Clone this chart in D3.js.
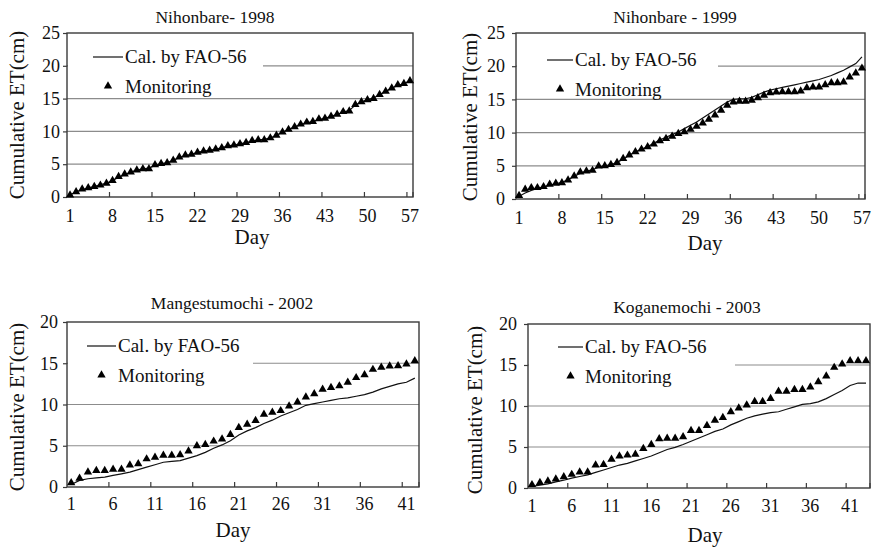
<!DOCTYPE html>
<html>
<head>
<meta charset="utf-8">
<script src="https://cdn.jsdelivr.net/npm/d3@7"></script>
<style>
  body { margin: 0; background: #fff; }
  svg text { font-family: "Liberation Serif", "Times New Roman", Times, "DejaVu Serif", serif; }
</style>
</head>
<body>
<div class="chart"></div>
<script>
// Cumulative ET (cm) per day
const nihon98Mon = [0.3,0.8,1.2,1.4,1.6,1.8,2.1,2.5,3.1,3.5,3.8,4.1,4.3,4.3,4.9,5.1,5.2,5.6,6.1,6.4,6.5,6.8,7.0,7.1,7.3,7.5,7.8,7.9,8.1,8.3,8.6,8.7,8.7,9.0,9.4,9.9,10.3,10.7,11.1,11.4,11.5,11.9,12.0,12.3,12.6,13.0,13.1,14.1,14.5,14.8,15.0,15.6,16.1,16.6,17.1,17.3,17.7];
const nihon98Cal = [0.3,0.8,1.1,1.4,1.6,1.9,2.1,2.5,3.0,3.4,3.8,4.1,4.3,4.4,4.8,5.1,5.2,5.6,6.0,6.3,6.5,6.8,7.0,7.1,7.3,7.5,7.8,7.9,8.1,8.3,8.5,8.7,8.8,9.0,9.4,9.9,10.3,10.7,11.0,11.3,11.5,11.8,12.0,12.3,12.6,12.9,13.2,14.0,14.5,14.8,15.1,15.6,16.1,16.6,17.0,17.3,17.7];
const nihon99Mon = [0.5,1.45,1.7,1.7,1.85,2.2,2.35,2.45,2.85,3.45,4.05,4.2,4.3,4.95,5.0,5.2,5.5,6.1,6.6,7.1,7.5,7.85,8.25,8.75,9.1,9.45,9.85,10.1,10.5,10.95,11.45,12.0,12.65,13.35,14.1,14.6,14.7,14.7,14.85,15.25,15.6,16.0,16.1,16.15,16.15,16.15,16.25,16.75,16.85,16.85,17.2,17.5,17.5,17.6,18.35,18.95,19.7];
const nihon99Cal = [0.4,0.9,1.3,1.6,1.8,2.1,2.3,2.5,2.9,3.4,3.9,4.2,4.4,4.8,5.0,5.2,5.5,6.0,6.6,7.1,7.5,7.9,8.4,8.9,9.3,9.7,10.1,10.6,11.1,11.6,12.2,12.8,13.4,14.0,14.6,15.0,15.1,15.1,15.3,15.7,16.1,16.4,16.6,16.8,17.0,17.2,17.4,17.6,17.8,18.0,18.3,18.6,19.0,19.4,19.9,20.4,21.4];
const mange02Mon = [0.5,1.05,1.8,2.0,2.0,2.15,2.15,2.65,2.8,3.4,3.6,3.85,3.85,3.9,4.35,5.0,5.15,5.55,5.8,6.35,7.2,7.6,8.05,8.8,9.05,9.25,9.8,10.3,10.9,11.3,11.85,12.05,12.25,12.7,13.25,13.6,14.25,14.5,14.65,14.7,14.9,15.3];
const mange02Cal = [0.3,0.8,1.0,1.1,1.2,1.4,1.6,1.8,2.1,2.4,2.7,3.0,3.1,3.2,3.5,3.8,4.2,4.7,5.1,5.6,6.3,6.8,7.2,7.7,8.1,8.6,9.0,9.4,9.9,10.1,10.3,10.5,10.7,10.8,11.0,11.2,11.5,11.9,12.2,12.5,12.7,13.2];
const kogane03Mon = [0.4,0.65,0.85,1.1,1.35,1.65,1.95,1.95,2.8,2.85,3.5,3.9,4.0,4.1,4.8,5.3,6.0,6.05,6.05,6.25,7.0,7.0,7.6,8.25,8.6,9.3,9.75,10.1,10.55,10.55,10.9,11.8,11.8,12.0,12.0,12.3,12.95,13.65,14.7,15.1,15.5,15.5,15.5];
const kogane03Cal = [0.2,0.35,0.5,0.75,0.95,1.2,1.4,1.6,1.9,2.2,2.5,2.8,3.0,3.3,3.6,3.9,4.3,4.7,4.95,5.3,5.7,6.1,6.5,6.9,7.2,7.7,8.1,8.5,8.8,9.0,9.2,9.3,9.6,9.9,10.2,10.3,10.5,10.9,11.4,11.9,12.5,12.8,12.8];

const yTicks25 = [0, 5, 10, 15, 20, 25];
const yTicks20 = [0, 5, 10, 15, 20];
const legendLabels = ["Cal. by FAO-56", "Monitoring"];

const svg = d3.select(".chart").append("svg")
  .attr("width", 872)
  .attr("height", 547);

function drawPanel(p) {
  const days = d3.range(1, p.mon.length + 1);
  const x = d3.scaleBand().domain(days).range([p.left, p.right]).padding(0);
  const y = d3.scaleLinear().domain([0, p.yTicks[p.yTicks.length - 1]]).range([p.bottom, p.top]);
  const cx = d => x(d) + x.bandwidth() / 2;
  const labelDays = days.filter(d => (d - 1) % p.every === 0);

  const g = svg.append("g");

  // gridlines
  g.selectAll("line.grid")
    .data(p.yTicks.slice(1, -1))
    .enter().append("line")
    .attr("class", "grid")
    .attr("x1", p.left).attr("x2", p.right)
    .attr("y1", d => y(d)).attr("y2", d => y(d))
    .attr("stroke", "#8c8c8c")
    .attr("stroke-width", 1.2);

  // legend background hides part of a gridline
  g.append("rect")
    .attr("x", p.left + 1)
    .attr("y", p.top + 6)
    .attr("width", p.boxRight - p.left - 1)
    .attr("height", 58)
    .attr("fill", "#fff");

  // plot border
  g.append("rect")
    .attr("x", p.left).attr("y", p.top)
    .attr("width", p.right - p.left).attr("height", p.bottom - p.top)
    .attr("fill", "none")
    .attr("stroke", "#3a3a3a")
    .attr("stroke-width", 1.4);

  // y axis
  const ya = g.append("g")
    .attr("transform", `translate(${p.left},0)`)
    .call(d3.axisLeft(y).tickValues(p.yTicks).tickSize(4).tickPadding(p.yPad));
  ya.attr("font-family", null);
  ya.select(".domain").remove();
  ya.selectAll("line").attr("stroke", "#3a3a3a").attr("stroke-width", 1.2);
  ya.selectAll("text").attr("font-size", 18).attr("fill", "#111");

  // x axis labels
  const xa = g.append("g")
    .attr("transform", `translate(0,${p.bottom})`)
    .call(d3.axisBottom(x).tickValues(labelDays).tickSize(0).tickPadding(0));
  xa.attr("font-family", null);
  xa.select(".domain").remove();
  xa.selectAll("text").attr("font-size", 18).attr("fill", "#111")
    .attr("dy", null)
    .attr("y", p.xLabY - p.bottom);

  // x tick marks point up, at category boundaries
  g.selectAll("line.xtick")
    .data(labelDays.concat([days.length + 1]).filter(d => d > 1))
    .enter().append("line")
    .attr("class", "xtick")
    .attr("x1", d => d > days.length ? p.right : x(d))
    .attr("x2", d => d > days.length ? p.right : x(d))
    .attr("y1", p.bottom).attr("y2", p.bottom - 5)
    .attr("stroke", "#3a3a3a").attr("stroke-width", 1.2);

  // FAO-56 line
  g.append("path")
    .datum(p.cal)
    .attr("fill", "none")
    .attr("stroke", "#111")
    .attr("stroke-width", 1.2)
    .attr("d", d3.line().x((v, i) => cx(i + 1)).y(v => y(v)));

  // monitoring triangles
  const tri = d3.symbol().type(d3.symbolTriangle).size(30);
  g.selectAll("path.mon")
    .data(p.mon)
    .enter().append("path")
    .attr("class", "mon")
    .attr("d", tri)
    .attr("transform", (v, i) => `translate(${cx(i + 1)},${y(v)})`)
    .attr("fill", "#000");

  // legend
  g.append("line")
    .attr("x1", p.lg.x0).attr("x2", p.lg.x1)
    .attr("y1", p.lg.y).attr("y2", p.lg.y)
    .attr("stroke", "#111").attr("stroke-width", 1.2);
  g.append("text")
    .attr("x", p.lg.x1 + 2).attr("y", p.lg.y + 6)
    .attr("font-size", 19).attr("fill", "#111")
    .text(legendLabels[0]);
  g.append("path")
    .attr("d", tri)
    .attr("transform", `translate(${(p.lg.x0 + p.lg.x1) / 2},${p.lg.y + 29})`)
    .attr("fill", "#000");
  g.append("text")
    .attr("x", p.lg.x1 + 2).attr("y", p.lg.y + 36)
    .attr("font-size", 19).attr("fill", "#111")
    .text(legendLabels[1]);

  // titles
  g.append("text")
    .attr("x", p.titleX).attr("y", p.titleY)
    .attr("text-anchor", "middle")
    .attr("font-size", 17.5).attr("fill", "#111")
    .text(p.title);
  g.append("text")
    .attr("transform", `translate(${p.yTitleX},${p.yTitleY}) rotate(-90)`)
    .attr("text-anchor", "middle")
    .attr("font-size", 21).attr("fill", "#111")
    .text("Cumulative ET(cm)");
  g.append("text")
    .attr("x", p.dayX).attr("y", p.dayY)
    .attr("text-anchor", "middle")
    .attr("font-size", 21).attr("fill", "#111")
    .text("Day");
}

drawPanel({
  mon: nihon98Mon, cal: nihon98Cal, yTicks: yTicks25, every: 7,
  left: 67, right: 413, top: 33, bottom: 197, yPad: 3, xLabY: 222,
  boxRight: 263, lg: {x0: 93, x1: 123, y: 57},
  title: "Nihonbare- 1998", titleX: 215, titleY: 23,
  yTitleX: 24, yTitleY: 115, dayX: 252, dayY: 244
});
drawPanel({
  mon: nihon99Mon, cal: nihon99Cal, yTicks: yTicks25, every: 7,
  left: 516, right: 865, top: 33, bottom: 199, yPad: 7, xLabY: 224,
  boxRight: 718, lg: {x0: 547, x1: 573, y: 60},
  title: "Nihonbare - 1999", titleX: 675, titleY: 23,
  yTitleX: 477, yTitleY: 117, dayX: 705, dayY: 250
});
drawPanel({
  mon: mange02Mon, cal: mange02Cal, yTicks: yTicks20, every: 5,
  left: 67, right: 419, top: 322, bottom: 487, yPad: 5, xLabY: 510,
  boxRight: 253, lg: {x0: 87, x1: 116, y: 346},
  title: "Mangestumochi - 2002", titleX: 232, titleY: 309,
  yTitleX: 24, yTitleY: 407, dayX: 233, dayY: 537
});
drawPanel({
  mon: kogane03Mon, cal: kogane03Cal, yTicks: yTicks20, every: 5,
  left: 528, right: 870, top: 324, bottom: 488, yPad: 7, xLabY: 512,
  boxRight: 735, lg: {x0: 558, x1: 583, y: 347},
  title: "Koganemochi - 2003", titleX: 687, titleY: 313,
  yTitleX: 482, yTitleY: 410, dayX: 705, dayY: 542
});
</script>
</body>
</html>
